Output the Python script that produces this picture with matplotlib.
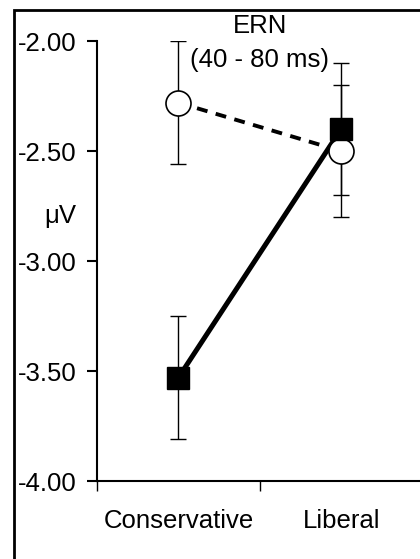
import matplotlib.pyplot as plt
from matplotlib.patches import Rectangle

condicoes = ['Conservative', 'Liberal']
# circulos abertos (linha tracejada)
media_aberto = [-2.28, -2.50]
erro_aberto = [0.28, 0.30]
# quadrados cheios (linha solida)
media_cheio = [-3.53, -2.40]
erro_cheio = [0.28, 0.30]
yticks = [-4.00, -3.50, -3.00, -2.50, -2.00]

plt.rcParams['font.family'] = ['Liberation Sans', 'DejaVu Sans']
fs = 18.5

fig = plt.figure(figsize=(4.2, 5.59), dpi=100)
ax = fig.add_axes([0.231, 0.1395, 0.775, 0.787])

x = list(range(len(condicoes)))

ax.errorbar(x, media_aberto, yerr=erro_aberto, fmt='none', ecolor='black',
            elinewidth=1, capsize=6, capthick=1, zorder=2)
ax.errorbar(x, media_cheio, yerr=erro_cheio, fmt='none', ecolor='black',
            elinewidth=1, capsize=6, capthick=1, zorder=2)

ax.plot(x, media_aberto, color='black', lw=2.8, ls=(0, (2.8, 2.2)), zorder=3)
ax.plot(x, media_cheio, color='black', lw=3.6, zorder=3)
ax.plot(x, media_aberto, 'o', ms=18, mfc='white', mec='black', mew=1.2, zorder=4)
ax.plot(x, media_cheio, 's', ms=16, mfc='black', mec='black', zorder=5)

ax.set_xlim(-0.5, 1.5)
ax.set_ylim(-4.0, -2.0)
ax.set_yticks(yticks)
ax.set_yticklabels([f'{v:.2f}' for v in yticks])
ax.set_xticks([-0.5, 0.5, 1.5])
ax.set_xticklabels([])
for xi, nome in zip(x, condicoes):
    ax.text(xi, -0.092, nome, transform=ax.get_xaxis_transform(),
            ha='center', va='center', fontsize=fs)

ax.spines['top'].set_visible(False)
ax.spines['right'].set_visible(False)
ax.spines['left'].set_linewidth(1.5)
ax.spines['bottom'].set_linewidth(1.5)
ax.tick_params(axis='y', direction='out', length=7, width=1.5, labelsize=fs, pad=8)
ax.tick_params(axis='x', direction='out', length=7, width=1)

ax.text(0.5, -1.93, 'ERN', ha='center', va='center', fontsize=fs, clip_on=False)
ax.text(0.5, -2.085, '(40 - 80 ms)', ha='center', va='center', fontsize=fs)
fig.text(60 / 420, 1 - 216 / 559, 'μV', ha='center', va='center', fontsize=fs)

# moldura da figura (so aparecem os lados esquerdo e superior)
fig.patches.append(Rectangle((14 / 420, -0.1), 1.1, 1.1 - 10 / 559,
                             transform=fig.transFigure, fill=False,
                             lw=2, edgecolor='black'))

fig.savefig('out.png', dpi=100)
